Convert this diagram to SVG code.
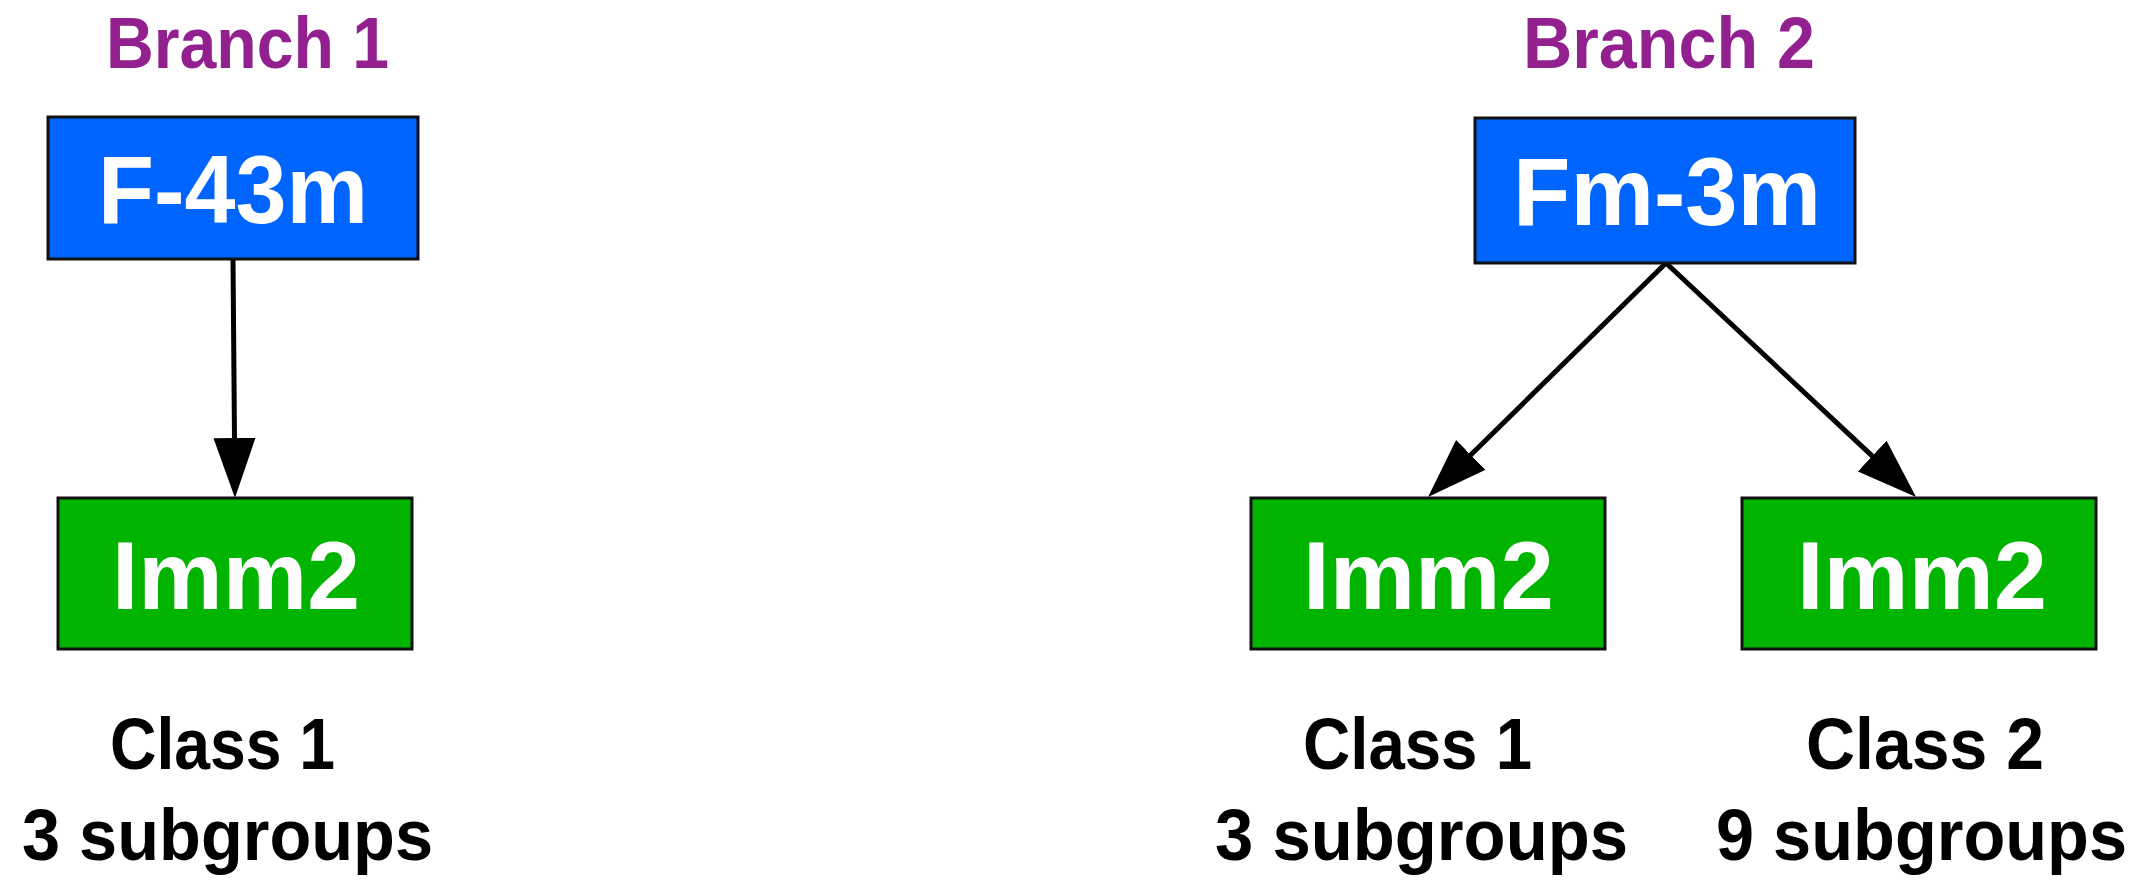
<svg xmlns="http://www.w3.org/2000/svg" width="2146" height="880" viewBox="0 0 2146 880">
  <defs>
    <style>
      .box-blue { fill: #0064FF; stroke: #111; stroke-width: 3; }
      .box-green { fill: #00B400; stroke: #111; stroke-width: 3; }
      .node-text { font-family: "Liberation Sans", Arial, sans-serif; font-weight: bold; font-size: 97px; fill: #fff; text-anchor: middle; }
      .branch { font-family: "Liberation Sans", Arial, sans-serif; font-weight: bold; font-size: 72px; fill: #93208F; text-anchor: middle; }
      .caption { font-family: "Liberation Sans", Arial, sans-serif; font-weight: bold; font-size: 72px; fill: #000; text-anchor: middle; }
      .edge { stroke: #000; stroke-width: 5; fill: none; }
    </style>
    <marker id="arrowhead" markerUnits="userSpaceOnUse" markerWidth="62" markerHeight="44" viewBox="0 0 62 44" refX="2" refY="22" orient="auto">
      <path d="M0,1 L60,22 L0,43 Z" fill="#000"/>
    </marker>
  </defs>

  <rect width="2146" height="880" fill="#fff"/>

  <!-- branch headings -->
  <text class="branch" x="247.5" y="68" textLength="283" lengthAdjust="spacingAndGlyphs">Branch 1</text>
  <text class="branch" x="1669" y="68" textLength="292" lengthAdjust="spacingAndGlyphs">Branch 2</text>

  <!-- connectors -->
  <g id="edges">
    <line class="edge" x1="233" y1="259" x2="234.5" y2="440" marker-end="url(#arrowhead)"/>
    <line class="edge" x1="1666" y1="263" x2="1469.4" y2="456.3" marker-end="url(#arrowhead)"/>
    <line class="edge" x1="1666" y1="263" x2="1873.7" y2="457.4" marker-end="url(#arrowhead)"/>
  </g>

  <!-- branch 1 -->
  <g id="node-f43m">
    <rect class="box-blue" x="48" y="117" width="370" height="142"/>
    <text class="node-text" x="233" y="223" textLength="270" lengthAdjust="spacingAndGlyphs">F-43m</text>
  </g>
  <g id="node-imm2-b1">
    <rect class="box-green" x="58" y="498" width="354" height="151"/>
    <text class="node-text" x="236" y="609" textLength="248" lengthAdjust="spacingAndGlyphs">Imm2</text>
  </g>
  <g id="caption-b1">
    <text class="caption" x="222.5" y="769" textLength="225" lengthAdjust="spacingAndGlyphs">Class 1</text>
    <text class="caption" x="227.5" y="860" textLength="411" lengthAdjust="spacingAndGlyphs">3 subgroups</text>
  </g>

  <!-- branch 2 -->
  <g id="node-fm3m">
    <rect class="box-blue" x="1475" y="118" width="380" height="145"/>
    <text class="node-text" x="1667" y="225" textLength="308" lengthAdjust="spacingAndGlyphs">Fm-3m</text>
  </g>
  <g id="node-imm2-b2-c1">
    <rect class="box-green" x="1251" y="498" width="354" height="151"/>
    <text class="node-text" x="1428.5" y="609" textLength="251" lengthAdjust="spacingAndGlyphs">Imm2</text>
  </g>
  <g id="node-imm2-b2-c2">
    <rect class="box-green" x="1742" y="498" width="354" height="151"/>
    <text class="node-text" x="1922" y="609" textLength="250" lengthAdjust="spacingAndGlyphs">Imm2</text>
  </g>
  <g id="caption-b2-c1">
    <text class="caption" x="1417.5" y="769" textLength="229" lengthAdjust="spacingAndGlyphs">Class 1</text>
    <text class="caption" x="1421.5" y="860" textLength="413" lengthAdjust="spacingAndGlyphs">3 subgroups</text>
  </g>
  <g id="caption-b2-c2">
    <text class="caption" x="1925" y="769" textLength="238" lengthAdjust="spacingAndGlyphs">Class 2</text>
    <text class="caption" x="1921.5" y="860" textLength="411" lengthAdjust="spacingAndGlyphs">9 subgroups</text>
  </g>
</svg>
